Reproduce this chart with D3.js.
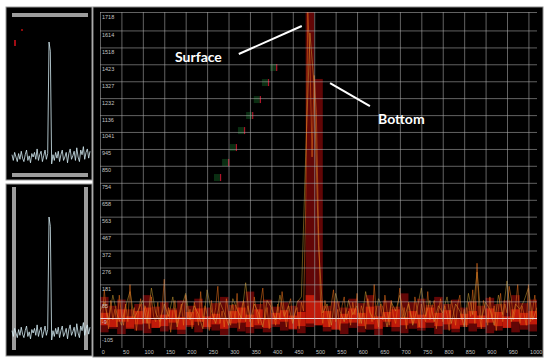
<!DOCTYPE html>
<html>
<head>
<meta charset="utf-8">
<script src="https://cdn.jsdelivr.net/npm/d3@7"></script>
<style>
body { margin: 0; background: #fff; }
svg { display: block; }
</style>
</head>
<body>
<script>
const width = 550;
const height = 363;

// echo amplitude, one sample every 5 range units (0 .. 1020)
const traceStep = 5;
const orangeTrace = [
    60, -40, 150, 20, -70, 90, -20, 40, -60, 120, 10, -50, 70, -30, 180, -10, 50, -80, 30, 100,
    -40, 60, 20, -70, 110, 0, -30, 80, -60, 40, 210, -20, 50, -90, 30, 90, -40, 10, 70, -50,
    120, -10, 40, -70, 80, 20, -50, 140, -30, 60, 10, -80, 90, -20, 50, 170, -40, 30, -60, 100,
    20, -50, 70, -10, 130, -70, 40, 90, -30, 60, 0, -60, 110, 30, -40, 80, 160, -20, 50, -70,
    90, 10, -50, 70, -20, 140, 30, -60, 60, 100, -30, 20, 50, -70, 80, 30,
    600, 1718, 1450, 900, 1360, 1150, 500, 60,
    -40, 90, 20, -60, 70, 150, -30, 40, -80, 60, 110, -20, 30, -50, 80, 10,
    130, -40, 60, 20, -70, 100, 40, -30, 180, 10, -60, 70, -20, 120, 30, -50, 90, 0, -40, 60,
    160, -10, 50, -70, 80, 20, -40, 110, 40, -60, 70, 10, -30, 140, -20, 50, 90, -70, 30, 100,
    -30, 60, 10, -80, 90, 30, -50, 70, 120, -20, 40, -60, 80, 0, 150, -40, 300, 20, -70, 90,
    30, -50, 110, -10, 60, -80, 40, 130, -30, 70, 20, 170, 100, -20, 50, 180, -40, 60, 10, -50,
    180, -30, 40, 120, -20
];

// second (yellow) trace, one sample every 10 units
const yellowStep = 10;
const yellowTrace = [
    30, 80, -20, 120, 10, -50, 60, 140, -10, 40,
    90, -40, 160, 20, -30, 70, 0, 110, -60, 50,
    130, -20, 60, 10, -70, 150, 30, -40, 80, 20,
    -50, 100, 40, -10, 190, -30, 70, 20, -60, 90,
    50, -20, 120, 0, 60, -40, 80, 110, 900, 1600,
    1300, 400, 20, 70, -50, 130, 30, -30, 90, 10,
    60, -40, 140, 20, -20, 100, 50, -60, 80, 30,
    120, -10, 70, -50, 40, 160, 0, 90, -30, 60,
    20, 110, -40, 70, 30, -60, 130, 10, 250, -20,
    80, 40, -50, 120, 10, 200, -30, 70, 40, 90,
    160, -20, 50
];

// min / max envelopes in bins of 20 units
const bandStep = 20;
const darkHi = [
    110, 60, 95, 40, 70, 120, 55, 80, 45, 90,
    60, 100, 50, 75, 110, 65, 85, 140, 70, 95,
    55, 80, 60, 90, 1718, 1340, 60, 85, 50, 100,
    75, 120, 60, 90, 55, 130, 80, 100, 65, 110,
    70, 95, 50, 85, 60, 105, 70, 90, 120, 75, 95
];
const darkLo = [
    -90, -70, -100, -60, -80, -95, -65, -85, -75, -100,
    -60, -90, -70, -80, -105, -65, -85, -95, -70, -90,
    -60, -80, -75, -95, -60, -50, -85, -70, -100, -65,
    -90, -75, -105, -60, -85, -95, -70, -80, -65, -100,
    -75, -90, -60, -85, -70, -95, -80, -65, -90, -75, -85
];
const brightHi = [
    20, -10, 40, 0, 30, 50, -20, 10, 35, -5,
    25, 45, 0, 15, -15, 30, 50, 10, 40, -10,
    20, 35, 5, 25, 120, 90, 30, -10, 15, 45,
    20, 55, 0, 25, 40, -5, 30, 10, 50, 20,
    35, -10, 15, 30, 5, 45, 25, 0, 40, 20, 30
];
const brightLo = [
    -50, -60, -30, -70, -45, -40, -65, -55, -35, -75,
    -50, -30, -60, -45, -70, -40, -35, -60, -50, -65,
    -45, -30, -70, -55, -40, -50, -60, -75, -40, -35,
    -55, -45, -70, -30, -60, -50, -40, -65, -35, -55,
    -45, -70, -50, -40, -60, -35, -55, -65, -30, -50, -45
];

const xTicks = [0, 50, 100, 150, 200, 250, 300, 350, 400, 450, 500, 550, 600, 650, 700, 750, 800, 850, 900, 950, 1000];
const yTicks = [1718, 1614, 1518, 1423, 1327, 1232, 1136, 1041, 945, 850, 754, 658, 563, 467, 372, 276, 181, 85, -9, -105];

// small target blips (range, amplitude)
const blips = [[280, 781], [299, 866], [317, 950], [336, 1046], [355, 1131], [373, 1221], [392, 1317], [411, 1402]];

// side panel trace (relative amplitude)
const sideTrace = [
    2, -3, 4, 0, -4, 3, -2, 5, -1, -4, 2, 6, -3, 1, -5, 3, 0, 4, -2, 7,
    -3, 2, 5, -4, 1, 6, -2, 3, 100, 92, -6, 2, -3, 4, -1, 5, -4, 2, 6, -3,
    0, 4, -5, 3, 7, -2, 1, 5, -3, 8, 0, -4, 6, 2, 9, -2, 4, 7, -1, 5
];

const notes = [
    { label: 'Surface', at: [175, 1436], from: [324, 1481], to: [471, 1639] },
    { label: 'Bottom', at: [649, 1086], from: [537, 1317], to: [630, 1187] }
];

const plotLeft = 100, plotRight = 537, plotTop = 12, plotBottom = 335;

const svg = d3.select('body').append('svg')
    .attr('width', width)
    .attr('height', height);

svg.append('rect').attr('width', width).attr('height', height).attr('fill', '#fff');

const xScale = d3.scaleLinear().domain([0, 1020]).range([plotLeft, plotRight]);
const yScale = d3.scaleLinear().domain([-105, 1718]).range([plotBottom, plotTop]);

// ---- side panels ----
const sideX = d3.scaleLinear().domain([0, sideTrace.length - 1]).range([12, 90]);
const sideLine = (sy) => d3.line().x((d, i) => sideX(i)).y(d => sy(d));

svg.append('rect').attr('x', 6).attr('y', 7).attr('width', 86).attr('height', 173)
    .attr('fill', '#000').attr('stroke', '#9a9a9a');
svg.append('rect').attr('x', 12).attr('y', 13).attr('width', 76).attr('height', 4).attr('fill', '#9c9c9c');
svg.append('rect').attr('x', 12).attr('y', 173).attr('width', 76).attr('height', 4).attr('fill', '#9c9c9c');
const syTop = d3.scaleLinear().domain([0, 100]).range([157, 42]);
svg.append('path').attr('d', sideLine(syTop)(sideTrace))
    .attr('fill', 'none').attr('stroke', '#d6edf5').attr('stroke-width', 0.8);
svg.append('rect').attr('x', 21).attr('y', 29).attr('width', 2).attr('height', 2).attr('fill', '#8a0a0a');
svg.append('rect').attr('x', 14).attr('y', 40).attr('width', 2).attr('height', 6).attr('fill', '#a00c14');

svg.append('rect').attr('x', 6).attr('y', 184).attr('width', 86).attr('height', 172)
    .attr('fill', '#000').attr('stroke', '#9a9a9a');
svg.append('rect').attr('x', 12).attr('y', 187).attr('width', 4).attr('height', 163).attr('fill', '#9c9c9c');
svg.append('rect').attr('x', 84).attr('y', 187).attr('width', 4).attr('height', 163).attr('fill', '#9c9c9c');
const syBot = d3.scaleLinear().domain([0, 100]).range([333, 217]);
svg.append('path').attr('d', sideLine(syBot)(sideTrace))
    .attr('fill', 'none').attr('stroke', '#d6edf5').attr('stroke-width', 0.8);

// ---- main panel ----
svg.append('rect').attr('x', 93).attr('y', 7).attr('width', 450).attr('height', 350)
    .attr('fill', '#000').attr('stroke', '#8a8a8a');

svg.append('clipPath').attr('id', 'plot-clip')
    .append('rect')
    .attr('x', plotLeft).attr('y', plotTop)
    .attr('width', plotRight - plotLeft).attr('height', plotBottom - plotTop);

const plot = svg.append('g').attr('clip-path', 'url(#plot-clip)');
const binW = xScale(bandStep) - xScale(0);

plot.append('g').selectAll('rect')
    .data(darkHi.map((hi, i) => ({ x: i * bandStep, hi: hi, lo: darkLo[i] })))
    .join('rect')
    .attr('x', d => xScale(d.x))
    .attr('width', binW)
    .attr('y', d => yScale(d.hi))
    .attr('height', d => yScale(d.lo) - yScale(d.hi))
    .attr('fill', '#620606');

plot.append('g').selectAll('rect')
    .data(brightHi.map((hi, i) => ({ x: i * bandStep, hi: hi, lo: brightLo[i] })))
    .join('rect')
    .attr('x', d => xScale(d.x))
    .attr('width', binW)
    .attr('y', d => yScale(d.hi))
    .attr('height', d => yScale(d.lo) - yScale(d.hi))
    .attr('fill', '#d81f0b')
    .attr('opacity', 0.8);

plot.append('path')
    .attr('d', d3.line().x((d, i) => xScale(i * yellowStep)).y(d => yScale(d))(yellowTrace))
    .attr('fill', 'none').attr('stroke', '#d9a836').attr('stroke-width', 0.6).attr('opacity', 0.8);

plot.append('path')
    .attr('d', d3.line().x((d, i) => xScale(i * traceStep)).y(d => yScale(d))(orangeTrace))
    .attr('fill', 'none').attr('stroke', '#e8701a').attr('stroke-width', 0.6).attr('opacity', 0.9);

// blips
const blipG = svg.append('g');
blipG.selectAll('rect.g')
    .data(blips).join('rect')
    .attr('x', d => xScale(d[0]) - 6).attr('y', d => yScale(d[1]) - 4)
    .attr('width', 6).attr('height', 7).attr('fill', '#0a2e12');
blipG.selectAll('rect.r')
    .data(blips).join('rect')
    .attr('x', d => xScale(d[0])).attr('y', d => yScale(d[1]) - 4)
    .attr('width', 1.2).attr('height', 7).attr('fill', '#b0142a');

// grid + axes
const yAxis = d3.axisLeft(yScale).tickValues(yTicks).tickSize(-(plotRight - plotLeft)).tickFormat(d => d);
const gy = svg.append('g')
    .attr('class', 'y-axis')
    .attr('transform', 'translate(' + plotLeft + ',0)')
    .call(yAxis)
    .attr('font-family', 'Liberation Sans')
    .attr('font-size', 5.5);
gy.select('.domain').remove();
gy.selectAll('line')
    .attr('stroke', '#b0b0b0').attr('stroke-opacity', 0.7).attr('stroke-width', 0.8);
gy.selectAll('.tick').filter(d => d === -9).select('line')
    .attr('stroke', '#f3d6d6').attr('stroke-opacity', 1).attr('stroke-width', 1.2);
gy.selectAll('text')
    .attr('x', 2).attr('dy', null).attr('y', 6)
    .attr('text-anchor', 'start').attr('fill', '#c4c4c4');

const xAxis = d3.axisBottom(xScale).tickValues(xTicks).tickSize(-(plotBottom - plotTop)).tickFormat(d => d);
const gx = svg.append('g')
    .attr('class', 'x-axis')
    .attr('transform', 'translate(0,' + plotBottom + ')')
    .call(xAxis)
    .attr('font-family', 'Liberation Sans')
    .attr('font-size', 5.5);
gx.select('.domain').remove();
gx.selectAll('line')
    .attr('y1', 13)
    .attr('stroke', '#b0b0b0').attr('stroke-opacity', 0.7).attr('stroke-width', 0.8);
gx.selectAll('text')
    .attr('x', 1.2).attr('dy', null).attr('y', 19)
    .attr('text-anchor', 'start').attr('fill', '#c4c4c4');

// annotations
const noteG = svg.append('g');
noteG.selectAll('line')
    .data(notes).join('line')
    .attr('x1', d => xScale(d.from[0])).attr('y1', d => yScale(d.from[1]))
    .attr('x2', d => xScale(d.to[0])).attr('y2', d => yScale(d.to[1]))
    .attr('stroke', '#fff').attr('stroke-width', 2);
noteG.selectAll('text')
    .data(notes).join('text')
    .attr('x', d => xScale(d.at[0])).attr('y', d => yScale(d.at[1]))
    .attr('fill', '#fff')
    .style('font-family', 'Lato, sans-serif')
    .style('font-weight', 'bold')
    .style('font-size', '14px')
    .text(d => d.label);
</script>
</body>
</html>
